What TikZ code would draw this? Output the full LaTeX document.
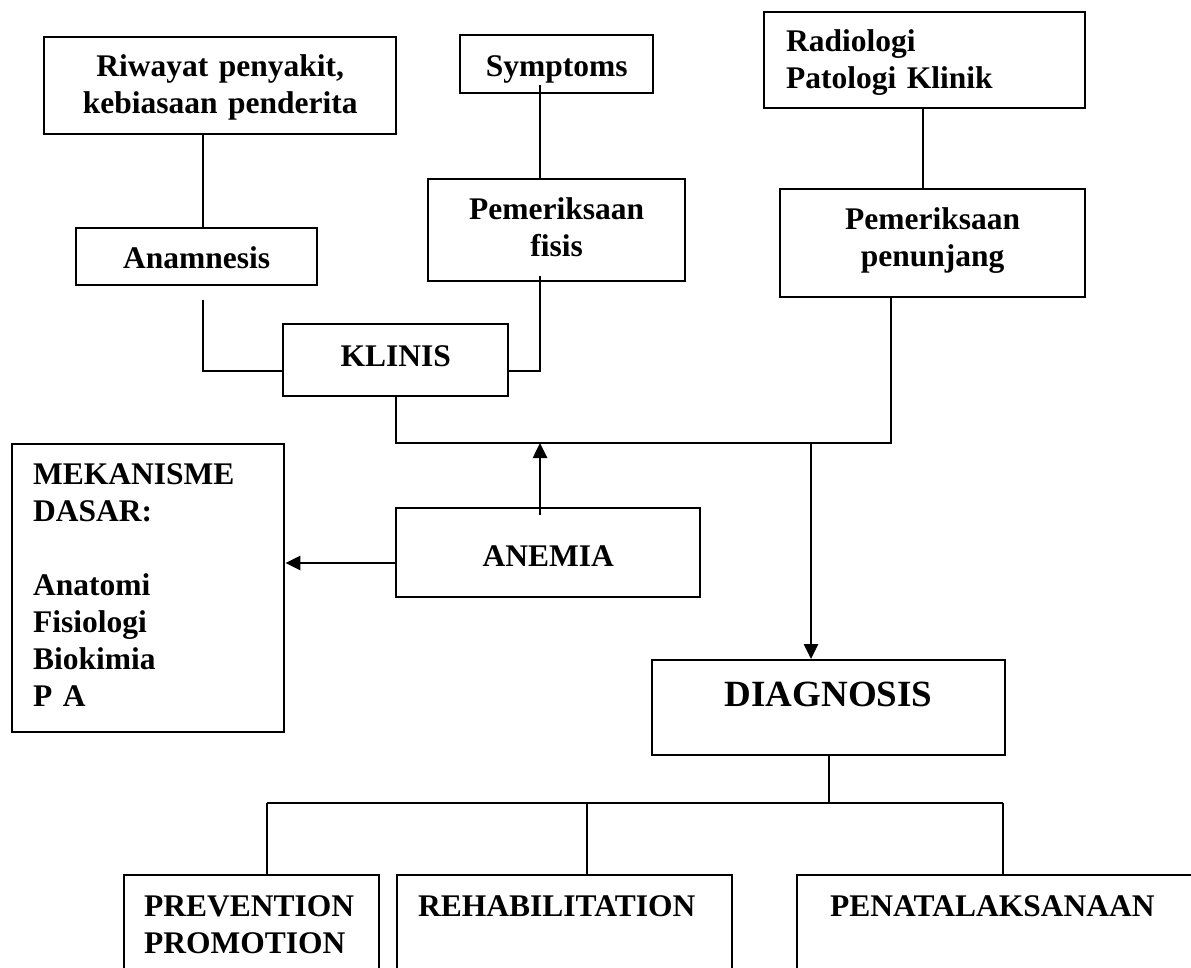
\documentclass[tikz,border=0pt]{standalone}
\usepackage{fontspec}
\setmainfont{Liberation Serif}
\usetikzlibrary{arrows.meta}
\hyphenpenalty=10000
\exhyphenpenalty=10000
\uchyph=0
\begin{document}
\begin{tikzpicture}[x=1pt,y=-1pt,
  bx/.style={draw,line width=2.4pt,anchor=north west,inner ysep=0pt,
    font=\bfseries\fontsize{31.5}{37}\selectfont},
  cn/.style={line width=1.8pt},
  ar/.style={line width=2.6pt,-{Triangle[length=15pt,width=14pt]}}]
\useasboundingbox (0,0) rectangle (1191,967);
\clip (0,0) rectangle (1191,967);

% boxes
\node[bx,inner xsep=5pt,text width=342pt,align=center,text height=39pt,text depth=58pt] (riw) at (43,36) {Riwayat penyakit,\\kebiasaan penderita};
\node[bx,inner xsep=5pt,text width=183pt,align=center,text height=41pt,text depth=17pt] (sym) at (459,34) {Symptoms};
\node[bx,inner xsep=22pt,text width=277pt,align=left,text height=39pt,text depth=57pt] (rad) at (763,11) {Radiologi\\Patologi Klinik};
\node[bx,inner xsep=5pt,text width=231pt,align=center,text height=40pt,text depth=17pt] (anam) at (75,227) {Anamnesis};
\node[bx,inner xsep=5pt,text width=247pt,align=center,text height=40pt,text depth=62pt] (fisis) at (427,178) {Pemeriksaan\\fisis};
\node[bx,inner xsep=5pt,text width=295pt,align=center,text height=40pt,text depth=68pt] (pen) at (779,188) {Pemeriksaan\\penunjang};
\node[bx,inner xsep=5pt,text width=215pt,align=center,text height=42pt,text depth=30pt] (kl) at (282,323) {KLINIS};
\node[bx,inner xsep=21pt,text width=230pt,align=left,text height=40pt,text depth=248pt] (mek) at (11,443) {MEKANISME\\DASAR:\\[37pt]Anatomi\\Fisiologi\\Biokimia\\P A};
\node[bx,inner xsep=5pt,text width=294pt,align=center,text height=58pt,text depth=31pt] (an) at (395,507) {ANEMIA};
\node[bx,inner xsep=5pt,text width=343pt,align=center,text height=46pt,text depth=49pt,font=\bfseries\fontsize{37}{44}\selectfont] (dia) at (651,659) {DIAGNOSIS};
\node[bx,inner xsep=20pt,text width=215pt,align=left,text height=41pt,text depth=85pt] (prev) at (123,874) {PREVENTION\\PROMOTION};
\node[bx,inner xsep=21pt,text width=293pt,align=left,text height=41pt,text depth=85pt] (reh) at (396,874) {REHABILITATION};
\node[bx,inner xsep=33pt,text width=388pt,align=left,text height=41pt,text depth=85pt] (pena) at (796,874) {PENATALAKSANAAN};

% helper coordinates
\coordinate (c1) at (203,0);
\coordinate (c2) at (540,0);
\coordinate (c3) at (923,0);
\coordinate (c4) at (891,0);
\coordinate (c5) at (811,0);
\coordinate (c6) at (267,0);
\coordinate (c7) at (587,0);
\coordinate (c8) at (1003,0);
\coordinate (j1) at (0,371);
\coordinate (j2) at (0,443);
\coordinate (j3) at (0,563);
\coordinate (j4) at (0,803);
\coordinate (a1) at ([yshift=-14pt]anam.south);
\coordinate (s1) at ([yshift=9pt]sym.south);
\coordinate (f1) at ([yshift=6pt]fisis.south);
\coordinate (a2) at ([yshift=-8pt]an.north);

% connectors
\draw[cn] (riw.south -| c1) -- (anam.north -| c1);
\draw[cn] (a1 -| c1) |- (kl.west |- j1);
\draw[cn] (s1 -| c2) -- (fisis.north -| c2);
\draw[cn] (f1 -| c2) |- (kl.east |- j1);
\draw[cn] (rad.south -| c3) -- (pen.north -| c3);
\draw[cn] (pen.south -| c4) |- (kl.south |- j2) -- (kl.south);
\draw[ar] (a2 -| c2) -- (j2 -| c2);
\draw[ar] (c5 |- j2) -- (dia.north -| c5);
\draw[ar] (an.west |- j3) -- (mek.east |- j3);
\draw[cn] (dia.south) -- (dia.south |- j4);
\draw[cn] (c6 |- j4) -- (c8 |- j4);
\draw[cn] (c6 |- j4) -- (prev.north -| c6);
\draw[cn] (c7 |- j4) -- (reh.north -| c7);
\draw[cn] (c8 |- j4) -- (pena.north -| c8);
\end{tikzpicture}
\end{document}
